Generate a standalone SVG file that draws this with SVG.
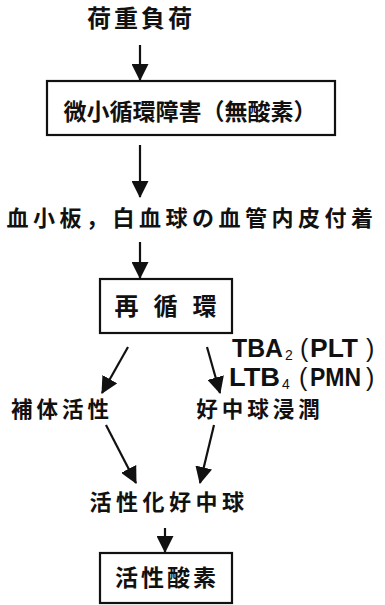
<svg xmlns="http://www.w3.org/2000/svg" width="385" height="605" viewBox="0 0 385 605">
<style>
.t{font-family:"Noto Sans CJK JP","Liberation Sans",sans-serif;font-weight:bold;fill:#111;}
.l{font-family:"Liberation Sans","Noto Sans CJK JP",sans-serif;font-weight:bold;fill:#111;}
.p{font-weight:normal;}
.box{fill:#fff;stroke:#111;stroke-width:2.2;}
.c{stroke:#111;stroke-width:2.2;fill:none;}
</style>
<defs>
<marker id="ah" viewBox="0 0 16 16" refX="15" refY="8" markerWidth="17" markerHeight="17" markerUnits="userSpaceOnUse" orient="auto">
<path d="M0,0 L16,8 L0,16 Z" fill="#111"/>
</marker>
</defs>
<rect width="385" height="605" fill="#fff"/>
<g id="connectors">
<line class="c" x1="140" y1="45" x2="140" y2="80" marker-end="url(#ah)"/>
<line class="c" x1="140" y1="145" x2="140" y2="197" marker-end="url(#ah)"/>
<line class="c" x1="140" y1="242" x2="140" y2="278" marker-end="url(#ah)"/>
<line class="c" x1="128" y1="347" x2="102" y2="393" marker-end="url(#ah)"/>
<line class="c" x1="207" y1="347" x2="220" y2="393" marker-end="url(#ah)"/>
<line class="c" x1="106" y1="425" x2="136" y2="483" marker-end="url(#ah)"/>
<line class="c" x1="214" y1="425" x2="200" y2="483" marker-end="url(#ah)"/>
<line class="c" x1="165" y1="528" x2="165" y2="552" marker-end="url(#ah)"/>
</g>
<g id="n1"><text class="t" x="141" y="27" font-size="24" text-anchor="middle" letter-spacing="3">荷重負荷</text></g>
<g id="n2">
<rect class="box" x="47" y="81" width="288" height="54"/>
<text class="t" x="190" y="120" font-size="23" text-anchor="middle">微小循環障害（無酸素）</text>
</g>
<g id="n3"><text class="t" x="192" y="226" font-size="22" text-anchor="middle" letter-spacing="4.5">血小板，白血球の血管内皮付着</text></g>
<g id="n4">
<rect class="box" x="100" y="279" width="132" height="54"/>
<text class="t" x="173" y="315" font-size="24" text-anchor="middle" letter-spacing="15">再循環</text>
</g>
<g id="n5">
<text class="l" x="232" y="357" font-size="25" textLength="51" lengthAdjust="spacingAndGlyphs">TBA</text>
<text class="l p" x="285" y="360" font-size="14">2</text>
<text class="l p" x="300" y="357" font-size="25">(</text>
<text class="l" x="310" y="357" font-size="25" textLength="48" lengthAdjust="spacingAndGlyphs">PLT</text>
<text class="l p" x="366" y="357" font-size="25">)</text>
<text class="l" x="229" y="386" font-size="25" textLength="51" lengthAdjust="spacingAndGlyphs">LTB</text>
<text class="l p" x="282" y="388.5" font-size="14">4</text>
<text class="l p" x="299" y="386" font-size="25">(</text>
<text class="l" x="310" y="386" font-size="25" textLength="51" lengthAdjust="spacingAndGlyphs">PMN</text>
<text class="l p" x="366" y="386" font-size="25">)</text>
</g>
<g id="n6"><text class="t" x="62" y="417" font-size="21.5" text-anchor="middle" letter-spacing="4">補体活性</text></g>
<g id="n7"><text class="t" x="260" y="417" font-size="21.5" text-anchor="middle" letter-spacing="4">好中球浸潤</text></g>
<g id="n8"><text class="t" x="169" y="510" font-size="22" text-anchor="middle" letter-spacing="4.5">活性化好中球</text></g>
<g id="n9">
<rect class="box" x="100" y="553" width="132" height="50"/>
<text class="t" x="167" y="586" font-size="23" text-anchor="middle" letter-spacing="3">活性酸素</text>
</g>
</svg>
